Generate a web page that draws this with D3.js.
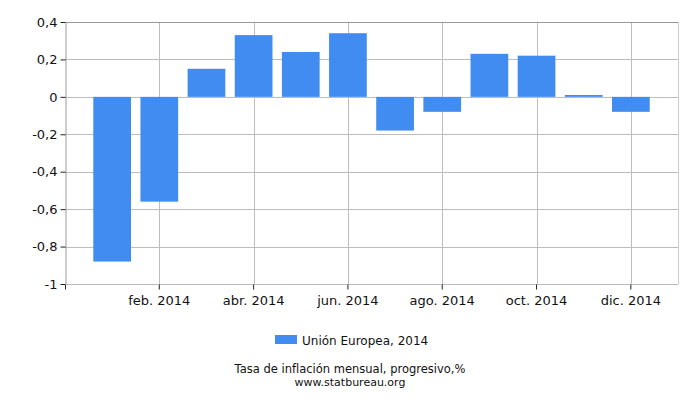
<!DOCTYPE html>
<html lang="es">
<head>
  <meta charset="UTF-8">
  <title>Tasa de inflación mensual</title>
  <script src="https://d3js.org/d3.v7.min.js"></script>
  <style>
    body { margin: 0; background: #fff; }
    svg text { font-family: "DejaVu Sans", sans-serif; fill: #111; }
  </style>
</head>
<body>
  <svg width="700" height="400"></svg>
  <script>
    const months = ["ene.", "feb.", "mar.", "abr.", "may.", "jun.", "jul.", "ago.", "sep.", "oct.", "nov.", "dic."];
    const values = [-0.88, -0.56, 0.15, 0.33, 0.24, 0.34, -0.18, -0.08, 0.23, 0.22, 0.01, -0.08];
    const yTicks = [0.4, 0.2, 0, -0.2, -0.4, -0.6, -0.8, -1];
    const labelMonths = ["feb.", "abr.", "jun.", "ago.", "oct.", "dic."];
    const year = 2014;
    const seriesName = "Unión Europea, 2014";
    const title = "Tasa de inflación mensual, progresivo,%";
    const source = "www.statbureau.org";

    const svg = d3.select("svg");
    const plot = { left: 65, right: 678, top: 22, bottom: 284 };
    const step = (plot.right - plot.left) / 13;

    const x = d3.scaleBand()
      .domain(months)
      .range([plot.left + step / 2, plot.right - step / 2])
      .paddingInner(0.2)
      .paddingOuter(0.1);

    const y = d3.scaleLinear()
      .domain([-1, 0.4])
      .range([plot.bottom, plot.top]);

    const fmt = v => String(+v.toFixed(1)).replace(".", ",");

    // horizontal grid
    svg.append("g")
      .selectAll("line")
      .data(yTicks)
      .join("line")
      .attr("x1", plot.left).attr("x2", plot.right)
      .attr("y1", d => Math.round(y(d)) + 0.5).attr("y2", d => Math.round(y(d)) + 0.5)
      .attr("stroke", "#bdbdbd");

    // vertical grid
    svg.append("g")
      .selectAll("line")
      .data(labelMonths)
      .join("line")
      .attr("x1", d => Math.round(x(d) + x.bandwidth() / 2) + 0.5)
      .attr("x2", d => Math.round(x(d) + x.bandwidth() / 2) + 0.5)
      .attr("y1", plot.top).attr("y2", plot.bottom)
      .attr("stroke", "#bdbdbd");

    // frame
    svg.append("line").attr("x1", plot.left).attr("x2", plot.right).attr("y1", plot.top + 0.5).attr("y2", plot.top + 0.5).attr("stroke", "#999");
    svg.append("line").attr("x1", plot.right + 0.5).attr("x2", plot.right + 0.5).attr("y1", plot.top).attr("y2", plot.bottom).attr("stroke", "#ccc");

    // bars
    svg.append("g")
      .selectAll("rect")
      .data(values)
      .join("rect")
      .attr("x", (d, i) => x(months[i]))
      .attr("width", x.bandwidth())
      .attr("y", d => y(Math.max(0, d)))
      .attr("height", d => Math.abs(y(d) - y(0)))
      .attr("fill", "#418cf0");

    // y axis
    const yAxis = svg.append("g")
      .attr("transform", `translate(${plot.left + 0.5},0)`)
      .call(d3.axisLeft(y).tickValues(yTicks).tickFormat(fmt).tickSize(5).tickSizeOuter(0));
    yAxis.select(".domain").attr("stroke", "#999");
    yAxis.selectAll(".tick line").attr("stroke", "#222");
    yAxis.selectAll(".tick text")
      .attr("font-size", 13)
      .attr("x", -8);

    // x axis
    const xAxis = svg.append("g")
      .attr("transform", `translate(0,${plot.bottom + 0.5})`)
      .call(d3.axisBottom(x).tickValues(labelMonths).tickFormat(d => `${d} ${year}`).tickSize(5).tickSizeOuter(0));
    xAxis.select(".domain").attr("stroke", "#bbb").attr("d", `M${plot.left},0H${plot.right}`);
    xAxis.selectAll(".tick line").attr("stroke", "#222");
    xAxis.selectAll(".tick text").attr("font-size", 13).attr("y", 11);
    xAxis.append("line").attr("x1", plot.left + 0.5).attr("x2", plot.left + 0.5).attr("y1", 0).attr("y2", 5).attr("stroke", "#222");

    // legend
    const legend = svg.append("g").attr("transform", "translate(275,335)");
    legend.append("rect").attr("width", 22).attr("height", 9).attr("fill", "#418cf0");
    legend.append("text").attr("x", 27).attr("y", 10).attr("font-size", 12).text(seriesName);

    svg.append("text").attr("x", 350).attr("y", 373).attr("text-anchor", "middle").attr("font-size", 11.5).text(title);
    svg.append("text").attr("x", 350).attr("y", 386).attr("text-anchor", "middle").attr("font-size", 11).text(source);
  </script>
</body>
</html>
